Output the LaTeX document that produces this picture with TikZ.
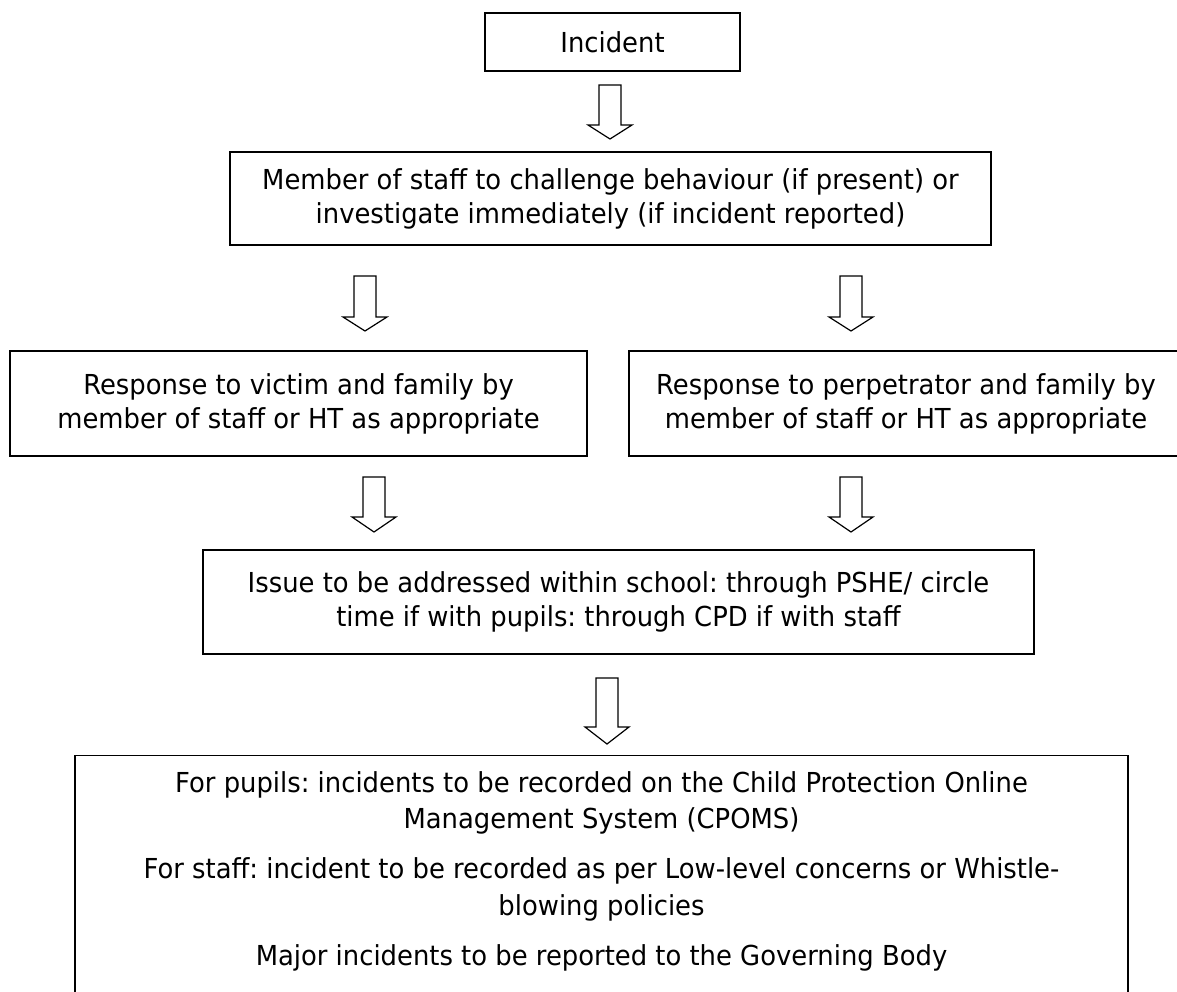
\documentclass[tikz,border=0pt]{standalone}
\usepackage{fontspec}
\setmainfont{DejaVu Sans}[FakeStretch=0.94]
\begin{document}
\frenchspacing
\begin{tikzpicture}[x=1pt,y=-1pt,
  box/.style={draw=black, line width=1.6pt, fill=white, align=center, inner sep=0pt,
    font=\fontsize{27.5}{34}\selectfont},
  thinbox/.style={draw=black, line width=1.1pt, inner sep=0pt},
  bodytext/.style={align=center, inner sep=0pt, font=\fontsize{27.5}{36.5}\selectfont},
  arrowline/.style={draw=black, line width=1.2pt, fill=white, line join=miter}]
\newcommand\flowarrow[4]{% x, top, head start, tip
  \draw[arrowline] (#1-11,#2) -- (#1+11,#2) -- (#1+11,#3) -- (#1+22,#3) -- (#1,#4)
    -- (#1-22,#3) -- (#1-11,#3) -- cycle;}
\useasboundingbox (0,0) rectangle (1177,992);
\fill[white] (0,0) rectangle (1177,992);

\node[box, minimum width=255pt, minimum height=58pt] (inc) at (612.5,42) {Incident};
\node[box, minimum width=761pt, minimum height=93pt] (staff) at (610.5,198.5)
  {Member of staff to challenge behaviour (if present) or\\investigate immediately (if incident reported)};
\node[box, minimum width=577pt, minimum height=105pt] (victim) at (298.5,403.5)
  {Response to victim and family by\\member of staff or HT as appropriate};
\node[box, minimum width=554pt, minimum height=105pt] (perp) at (906,403.5)
  {Response to perpetrator and family by\\member of staff or HT as appropriate};
\node[box, minimum width=831pt, minimum height=104pt] (issue) at (618.5,602)
  {Issue to be addressed within school: through PSHE/ circle\\time if with pupils: through CPD if with staff};
\node[thinbox, minimum width=1053pt, minimum height=250pt, anchor=north] (rec) at (601.5,755) {};
\node[bodytext] (rectext) at (rec.north |- 0,871)
  {For pupils: incidents to be recorded on the Child Protection Online\\
   Management System (CPOMS)\\[13.5pt]
   For staff: incident to be recorded as per Low-level concerns or Whistle-\\
   blowing policies\\[13.5pt]
   Major incidents to be reported to the Governing Body};

\flowarrow{610}{85}{125}{139}
\flowarrow{365}{276}{317}{331}
\flowarrow{851}{276}{317}{331}
\flowarrow{374}{477}{517}{532}
\flowarrow{851}{477}{517}{532}
\flowarrow{607}{678}{727}{744}
\end{tikzpicture}
\end{document}
